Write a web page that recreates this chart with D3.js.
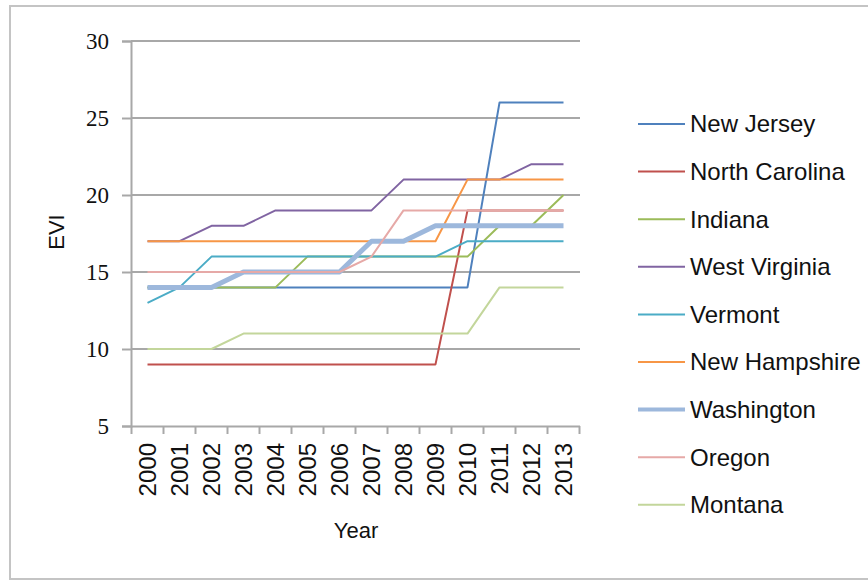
<!DOCTYPE html>
<html><head><meta charset="utf-8">
<script src="https://cdn.jsdelivr.net/npm/d3@7/dist/d3.min.js"></script>
<style>body{margin:0;background:#fff}svg{display:block}</style>
</head><body>
<svg id="chart" width="868" height="582"></svg>
<script>
const years = ["2000","2001","2002","2003","2004","2005","2006","2007","2008","2009","2010","2011","2012","2013"];
const yTicks = [5, 10, 15, 20, 25, 30];
const newJersey     = [14,14,14,14,14,14,14,14,14,14,14,26,26,26];
const northCarolina = [9,9,9,9,9,9,9,9,9,9,19,19,19,19];
const indiana       = [14,14,14,14,14,16,16,16,16,16,16,18,18,20];
const westVirginia  = [17,17,18,18,19,19,19,19,21,21,21,21,22,22];
const vermont       = [13,14,16,16,16,16,16,16,16,16,17,17,17,17];
const newHampshire  = [17,17,17,17,17,17,17,17,17,17,21,21,21,21];
const washington    = [14,14,14,15,15,15,15,17,17,18,18,18,18,18];
const oregon        = [15,15,15,15,15,15,15,16,19,19,19,19,19,19];
const montana       = [10,10,10,11,11,11,11,11,11,11,11,14,14,14];
const seriesNames = ["New Jersey","North Carolina","Indiana","West Virginia","Vermont","New Hampshire","Washington","Oregon","Montana"];
const seriesValues = [newJersey,northCarolina,indiana,westVirginia,vermont,newHampshire,washington,oregon,montana];
const colors = ["#4F81BD","#C0504D","#9BBB59","#8064A2","#4BACC6","#F79646","#9DB8DC","#E6A9A7","#C3D69B"];
const widths = [2,2,2,2,2,2,5,2,2];

const svg = d3.select("#chart");
svg.append("rect").attr("x",10).attr("y",6).attr("width",866).attr("height",573)
  .attr("fill","none").attr("stroke","#c4c4c4").attr("stroke-width",2);

const x = d3.scaleBand().domain(years).range([131.5, 579.5]);
const y = d3.scaleLinear().domain([5, 30]).range([426, 41]);

// gridlines
svg.append("g").selectAll("line").data(yTicks.slice(1)).join("line")
  .attr("x1",131).attr("x2",580).attr("y1",d=>y(d)).attr("y2",d=>y(d))
  .attr("stroke","#a8a8a8").attr("stroke-width",2);

// y axis
const yAxis = svg.append("g").attr("transform","translate(131,0)")
  .call(d3.axisLeft(y).tickValues(yTicks).tickSize(9).tickPadding(13));
yAxis.select(".domain").attr("stroke","#a8a8a8").attr("stroke-width",2);
yAxis.selectAll(".tick line").attr("stroke","#a8a8a8").attr("stroke-width",2);
yAxis.selectAll("text").attr("font-family","Liberation Serif").attr("font-size",23).attr("fill","#111");

// x axis
const xAxis = svg.append("g").attr("transform","translate(0,426)")
  .call(d3.axisBottom(x).tickSize(0).tickSizeOuter(0));
xAxis.select(".domain").attr("stroke","#a8a8a8").attr("stroke-width",2);
xAxis.selectAll(".tick line").remove();
xAxis.selectAll("text").attr("font-family","Liberation Sans").attr("font-size",24).attr("fill","#111")
  .attr("text-anchor","end").attr("dy","0.35em")
  .attr("transform","translate(0,17) rotate(-90)").attr("x",0).attr("y",0);
// band boundary ticks
const bounds = years.map(d=>x(d)).concat([x(years[years.length-1])+x.bandwidth()]);
svg.append("g").selectAll("line").data(bounds).join("line")
  .attr("x1",d=>d).attr("x2",d=>d).attr("y1",426).attr("y2",434)
  .attr("stroke","#a8a8a8").attr("stroke-width",2);

// axis titles
svg.append("text").attr("x",356).attr("y",538).attr("text-anchor","middle")
  .attr("font-family","Liberation Sans").attr("font-size",22).attr("fill","#111").text("Year");
svg.append("text").attr("transform","translate(64,232) rotate(-90)").attr("text-anchor","middle")
  .attr("font-family","Liberation Sans").attr("font-size",22).attr("fill","#111").text("EVI");

// lines
const line = d3.line().x((d,i)=>x(years[i])+x.bandwidth()/2).y(d=>y(d));
svg.append("g").selectAll("path").data(seriesValues).join("path")
  .attr("d",d=>line(d)).attr("fill","none")
  .attr("stroke",(d,i)=>colors[i]).attr("stroke-width",(d,i)=>widths[i])
  .attr("stroke-linejoin","round");

// legend
const lg = svg.append("g").selectAll("g").data(seriesNames).join("g")
  .attr("transform",(d,i)=>`translate(638,${124+i*47.6})`);
lg.append("line").attr("x1",0).attr("x2",47).attr("y1",0).attr("y2",0)
  .attr("stroke",(d,i)=>colors[i]).attr("stroke-width",(d,i)=>widths[i]===5?4:2);
lg.append("text").attr("x",52).attr("dy","0.35em").attr("font-family","Liberation Sans")
  .attr("font-size",24).attr("fill","#111").text(d=>d);
</script>
</body></html>
